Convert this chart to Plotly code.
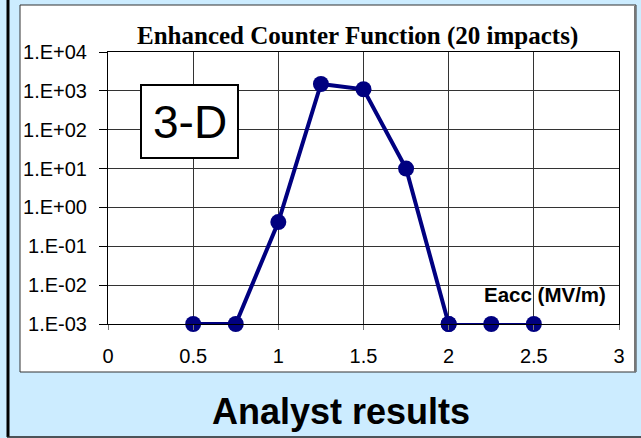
import plotly.graph_objects as go

# ---- data ----
eacc = [0.5, 0.75, 1.0, 1.25, 1.5, 1.75, 2.0, 2.25, 2.5]
counts = [1e-3, 1e-3, 0.42, 1500, 1100, 10, 1e-3, 1e-3, 1e-3]
y_tick_vals = [1e-3, 1e-2, 1e-1, 1e0, 1e1, 1e2, 1e3, 1e4]
y_tick_text = ["1.E-03", "1.E-02", "1.E-01", "1.E+00", "1.E+01", "1.E+02", "1.E+03", "1.E+04"]
x_tick_vals = [0, 0.5, 1, 1.5, 2, 2.5, 3]
x_tick_text = ["0", "0.5", "1", "1.5", "2", "2.5", "3"]
title_text = "Enhanced Counter Function (20 impacts)"
axis_label = "Eacc (MV/m)"
box_label = "3-D"
footer = "Analyst results"

W, H = 641, 438
L, R, T, B = 108, 22, 52, 114
PW, PH = W - L - R, H - T - B


def px(x):
    return (x - L) / PW


def py(y):
    return (H - B - y) / PH


NAVY = "#000080"
BLUE_BG = "#CCECFF"

fig = go.Figure()
split = 7  # index after the point at Eacc=2
fig.add_trace(go.Scatter(x=eacc[:split], y=counts[:split], mode="lines+markers",
                         line=dict(color=NAVY, width=4),
                         marker=dict(color=NAVY, size=16), cliponaxis=False,
                         showlegend=False))
fig.add_trace(go.Scatter(x=eacc[split - 1:], y=counts[split - 1:], mode="lines+markers",
                         line=dict(color=NAVY, width=2),
                         marker=dict(color=NAVY, size=16), cliponaxis=False,
                         showlegend=False))

shapes = [
    # white chart panel
    dict(type="rect", xref="paper", yref="paper", x0=px(20), x1=px(636), y0=py(5), y1=py(372),
         fillcolor="white", line=dict(color="#333333", width=1), layer="below"),
    dict(type="line", xref="paper", yref="paper", x0=px(635), x1=px(635), y0=py(6), y1=py(372),
         line=dict(color="#777777", width=2), layer="below"),
    # outer frame lines
    dict(type="line", xref="paper", yref="paper", x0=px(8), x1=px(8), y0=py(0), y1=py(437),
         line=dict(color="black", width=3), layer="above"),
    dict(type="line", xref="paper", yref="paper", x0=px(7), x1=px(641), y0=py(437), y1=py(437),
         line=dict(color="#222222", width=1.5), layer="above"),
    # 3-D box
    dict(type="rect", xref="paper", yref="paper", x0=px(141), x1=px(238), y0=py(85), y1=py(158),
         fillcolor="white", line=dict(color="black", width=2), layer="above"),
]

annotations = [
    dict(text="<b>" + title_text + "</b>", x=px(357.5), y=py(36), xref="paper", yref="paper",
         showarrow=False, xanchor="center", yanchor="middle",
         font=dict(family="Liberation Serif", size=25, color="black")),
    dict(text=box_label, x=px(189.5), y=py(122), xref="paper", yref="paper",
         showarrow=False, xanchor="center", yanchor="middle",
         font=dict(family="Liberation Sans", size=46, color="black")),
    dict(text="<b>" + axis_label + "</b>", x=px(545), y=py(294), xref="paper", yref="paper",
         showarrow=False, xanchor="center", yanchor="middle",
         font=dict(family="Liberation Sans", size=20.5, color="black")),
    dict(text="<b>" + footer + "</b>", x=px(341), y=py(411), xref="paper", yref="paper",
         showarrow=False, xanchor="center", yanchor="middle",
         font=dict(family="Liberation Sans", size=36, color="black")),
]

fig.update_layout(
    width=W, height=H,
    margin=dict(l=L, r=R, t=T, b=B, pad=0),
    paper_bgcolor=BLUE_BG, plot_bgcolor="white",
    shapes=shapes, annotations=annotations,
    xaxis=dict(range=[0, 3], tickvals=x_tick_vals, ticktext=x_tick_text,
               showgrid=True, gridcolor="#333333", gridwidth=1,
               showline=True, linecolor="black", linewidth=1, mirror=True,
               ticks="outside", ticklen=5, tickcolor="#777777", ticklabelstandoff=9,
               zeroline=False,
               tickfont=dict(family="Liberation Sans", size=20, color="black")),
    yaxis=dict(type="log", range=[-3, 4], tickvals=y_tick_vals, ticktext=y_tick_text,
               showgrid=True, gridcolor="#333333", gridwidth=1,
               showline=True, linecolor="black", linewidth=1, mirror=True,
               ticks="outside", ticklen=8, tickcolor="black", ticklabelstandoff=8,
               zeroline=False,
               tickfont=dict(family="Liberation Sans", size=20, color="black")),
)

fig.write_html("out.html")
